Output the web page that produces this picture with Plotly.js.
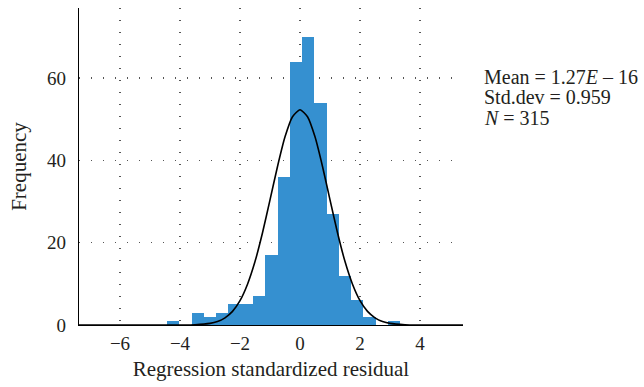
<!DOCTYPE html>
<html>
<head>
<meta charset="utf-8">
<script src="https://cdn.plot.ly/plotly-3.0.1.min.js"></script>
<style>html,body{margin:0;padding:0;background:#fff;}#chart{width:644px;height:387px;}</style>
</head>
<body>
<div id="chart"></div>
<script>
// Histogram bins (centers) and frequencies
const binCenters = [-4.2255,-3.8165,-3.4075,-2.9985,-2.5895,-2.1805,-1.7715,-1.3625,-0.9535,-0.5445,-0.1355,0.2735,0.6825,1.0915,1.5005,1.9095,2.3185,2.7275,3.1365];
const frequencies = [1,0,3,2,3,5,5,7,17,36,64,70,54,27,12,6,2,0,1];
const binWidth = 0.409;

// Normal curve, points
const curveX = [-7.4,-4.5,-4,-3.5,-3,-2.75,-2.5,-2.25,-2,-1.75,-1.5,-1.25,-1,-0.75,-0.5,-0.25,0,0.25,0.5,0.75,1,1.25,1.5,1.75,2,2.25,2.5,2.75,3,3.5,4,4.5,5.5];
const curveY = [0,0,0.01,0.07,0.39,0.86,1.75,3.3,5.9,9.9,15.4,22.4,30.4,38.5,45.7,50.6,52.3,50.6,45.7,38.5,30.4,22.4,15.4,9.9,5.9,3.3,1.75,0.86,0.39,0.07,0.01,0,0];

const statLines = ["Mean = 1.27<i>E</i> – 16", "Std.dev = 0.959", "<i>N</i> = 315"];
const xTicks = [-6,-4,-2,0,2,4];
const yTicks = [0,20,40,60];

const font = "Liberation Serif, Times New Roman, serif";
const txt = "#231f20";

const traces = [
  {
    type: "bar",
    x: binCenters,
    y: frequencies,
    width: binWidth,
    marker: {color: "#3590d0", line: {width: 0}},
    hoverinfo: "x+y"
  },
  {
    type: "scatter",
    mode: "lines",
    x: curveX,
    y: curveY,
    line: {color: "#000", width: 1.6, shape: "spline", smoothing: 0.6},
    hoverinfo: "skip"
  }
];

const gridDash = "1px,11px";

const layout = {
  width: 644,
  height: 387,
  margin: {l: 79, r: 181, t: 8, b: 62},
  paper_bgcolor: "#fff",
  plot_bgcolor: "#fff",
  showlegend: false,
  bargap: 0,
  font: {family: font, size: 19, color: txt},
  xaxis: {
    range: [-7.367, 5.433],
    tickvals: xTicks,
    ticks: "outside",
    ticklen: 1,
    tickcolor: "rgba(0,0,0,0)",
    showline: true,
    linecolor: "#000",
    linewidth: 1.3,
    zeroline: false,
    showgrid: true,
    gridcolor: "#555",
    gridwidth: 1.3,
    griddash: gridDash,
    tickfont: {family: font, size: 19, color: txt},
    title: {text: "Regression standardized residual", font: {family: font, size: 21, color: txt}, standoff: 8},
    automargin: false,
    fixedrange: true
  },
  yaxis: {
    range: [0, 77],
    tickvals: yTicks,
    ticks: "outside",
    ticklen: 8,
    tickcolor: "rgba(0,0,0,0)",
    showline: true,
    linecolor: "#000",
    linewidth: 1.3,
    zeroline: false,
    showgrid: true,
    gridcolor: "#555",
    gridwidth: 1.3,
    griddash: gridDash,
    tickfont: {family: font, size: 19, color: txt},
    title: {text: "Frequency", font: {family: font, size: 21, color: txt}, standoff: 14},
    automargin: false,
    fixedrange: true
  },
  annotations: statLines.map((t, i) => ({
    text: t,
    xref: "paper", yref: "paper",
    x: 1.052, y: 0.782 - i * 0.064,
    xanchor: "left", yanchor: "middle",
    showarrow: false,
    align: "left",
    borderpad: 0,
    font: {family: font, size: 20, color: txt}
  }))
};

Plotly.newPlot("chart", traces, layout, {displayModeBar: false, staticPlot: true});
</script>
</body>
</html>
